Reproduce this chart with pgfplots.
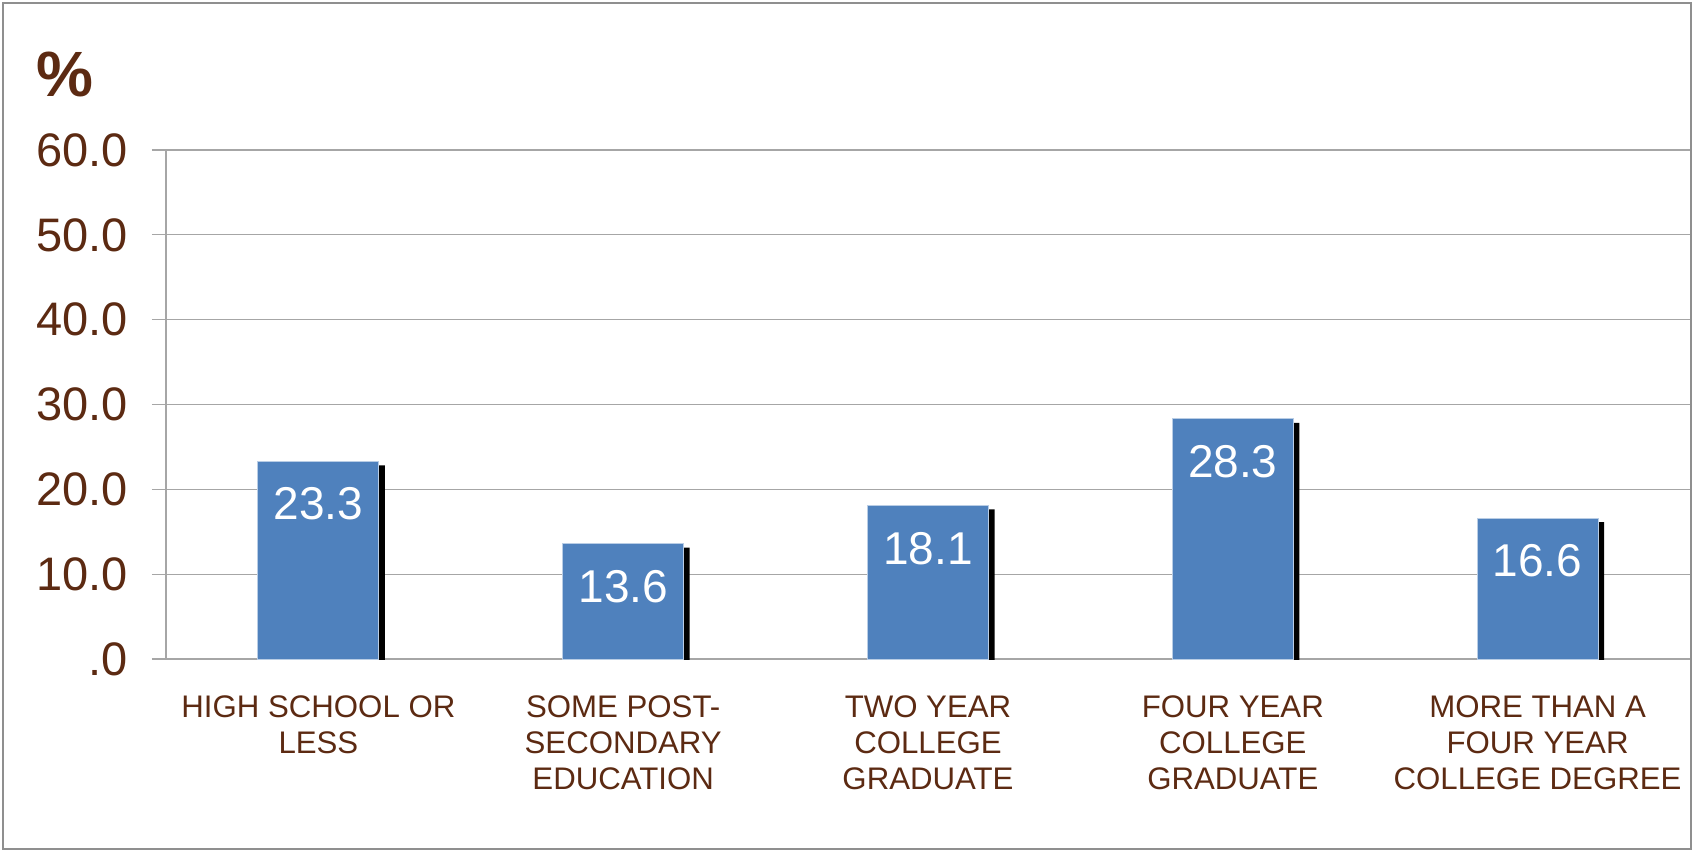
\documentclass[border=0pt]{standalone}
\usepackage{pgfplots}
\pgfplotsset{compat=1.18}
\usepackage{pgfplotstable}
\usepackage{fontspec}
\setmainfont{Liberation Sans}
\definecolor{brn}{HTML}{5C2A12}
\definecolor{barblue}{HTML}{4F81BD}
\definecolor{gridg}{HTML}{A6A6A6}
\definecolor{frameg}{HTML}{8F8F8F}
\pgfplotstableread{
x y lab
0 23.3 23.3
1 13.6 13.6
2 18.1 18.1
3 28.3 28.3
4 16.6 16.6
}\datatab
\begin{document}
\begin{tikzpicture}
\path[use as bounding box] (0,0) rectangle (846.5pt,426pt);
\fill[white] (0,0) rectangle (846.5pt,426pt);
\draw[frameg, line width=1pt] (1.5pt,1.5pt) rectangle (845.5pt,424.5pt);
\node[brn, font=\bfseries\fontsize{32}{32}\selectfont] at (32.5pt,389pt) {\%};
\begin{axis}[
  at={(83pt,96.5pt)}, anchor=south west,
  scale only axis, width=762pt, height=254.5pt,
  xmin=-0.5, xmax=4.5, ymin=0, ymax=60,
  axis x line=bottom, axis y line=left,
  axis line style={gridg, line width=0.6pt, -},
  tick align=outside,
  major tick length=7pt, minor tick length=4.5pt,
  ytick={0,10,...,60},
  yticklabels={.0,10.0,20.0,30.0,40.0,50.0,60.0},
  ytick style={gridg, line width=0.6pt},
  ymajorgrids, grid style={gridg, line width=0.6pt},
  yticklabel style={brn, font=\fontsize{23.5}{23.5}\selectfont, anchor=east, xshift=-8.5pt},
  xtick={0,1,2,3,4},
  xtick style={draw=none},
  minor xtick={-0.5,0.5,1.5,2.5,3.5,4.5},
  minor tick style={gridg, line width=0.6pt},
  xticklabels={{HIGH SCHOOL OR\\LESS},{SOME POST-\\SECONDARY\\EDUCATION},{TWO YEAR\\COLLEGE\\GRADUATE},{FOUR YEAR\\COLLEGE\\GRADUATE},{MORE THAN A\\FOUR YEAR\\COLLEGE DEGREE}},
  xticklabel style={brn, font=\fontsize{15.6}{18}\selectfont, align=center, anchor=north, yshift=-8pt},
]
\addplot[ybar, bar width=60.5pt, bar shift=3pt, fill=black, draw=none, yshift=-2pt] table[x=x, y=y] {\datatab};
\addplot[ybar, bar width=60.5pt, bar shift=0pt, fill=barblue, draw=white!60!barblue, line width=0.5pt,
  point meta=explicit symbolic, nodes near coords,
  every node near coord/.append style={anchor=north, white, font=\fontsize{23}{23}\selectfont, inner sep=0pt, yshift=-13pt}]
  table[x=x, y=y, meta=lab] {\datatab};
\end{axis}
\end{tikzpicture}
\end{document}
